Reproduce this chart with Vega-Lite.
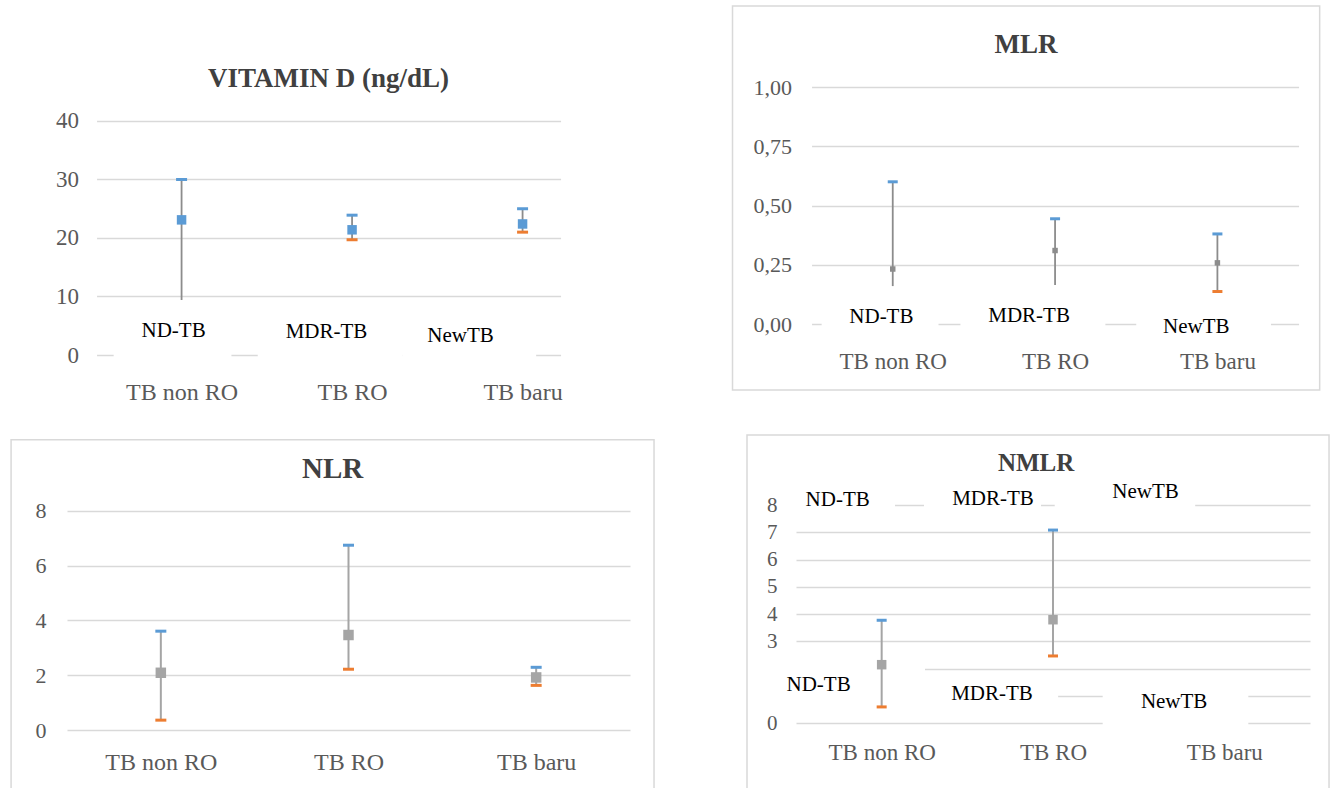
{
  "$schema": "https://vega.github.io/schema/vega-lite/v6.json",
  "padding": {"left": 10, "top": 5, "right": 0, "bottom": 0},
  "background": "white",
  "config": {
    "view": {"stroke": null},
    "font": "Liberation Serif",
    "title": {"font": "Liberation Serif", "fontSize": 27, "fontWeight": "bold", "color": "#404040", "anchor": "middle"},
    "axis": {"labelFont": "Liberation Serif", "labelColor": "#595959", "domain": false, "ticks": false, "gridColor": "#D9D9D9", "gridWidth": 1.5, "title": null, "labelOverlap": false},
    "text": {"font": "Liberation Serif", "fontSize": 21, "color": "#000000"}
  },
  "datasets": {
    "stats": [
      {"panel": "VIT", "group": "TB non RO", "max": 30.0, "min": 9.4, "minTick": null, "mid": 23.1},
      {"panel": "VIT", "group": "TB RO", "max": 23.9, "min": 19.7, "minTick": 19.7, "mid": 21.4},
      {"panel": "VIT", "group": "TB baru", "max": 25.0, "min": 21.0, "minTick": 21.0, "mid": 22.4},
      {"panel": "MLR", "group": "TB non RO", "max": 0.60, "min": 0.16, "minTick": null, "mid": 0.232},
      {"panel": "MLR", "group": "TB RO", "max": 0.444, "min": 0.165, "minTick": null, "mid": 0.31},
      {"panel": "MLR", "group": "TB baru", "max": 0.38, "min": 0.137, "minTick": 0.137, "mid": 0.258},
      {"panel": "NLR", "group": "TB non RO", "max": 3.61, "min": 0.36, "minTick": 0.36, "mid": 2.09},
      {"panel": "NLR", "group": "TB RO", "max": 6.75, "min": 2.22, "minTick": 2.22, "mid": 3.47},
      {"panel": "NLR", "group": "TB baru", "max": 2.29, "min": 1.63, "minTick": 1.63, "mid": 1.92},
      {"panel": "NMLR", "group": "TB non RO", "max": 3.77, "min": 0.59, "minTick": 0.59, "mid": 2.14},
      {"panel": "NMLR", "group": "TB RO", "max": 7.08, "min": 2.46, "minTick": 2.46, "mid": 3.79}
    ],
    "notes": [
      {"panel": "VIT", "label": "ND-TB", "pos": 0.451, "val": 4.1},
      {"panel": "VIT", "label": "MDR-TB", "pos": 1.347, "val": 3.9},
      {"panel": "VIT", "label": "NewTB", "pos": 2.132, "val": 3.2},
      {"panel": "MLR", "label": "ND-TB", "pos": 0.43, "val": 0.03},
      {"panel": "MLR", "label": "MDR-TB", "pos": 1.34, "val": 0.033},
      {"panel": "MLR", "label": "NewTB", "pos": 2.37, "val": -0.013},
      {"panel": "NMLR", "label": "ND-TB", "pos": 0.243, "val": 8.19},
      {"panel": "NMLR", "label": "MDR-TB", "pos": 1.15, "val": 8.21},
      {"panel": "NMLR", "label": "NewTB", "pos": 2.04, "val": 8.49},
      {"panel": "NMLR", "label": "ND-TB", "pos": 0.132, "val": 1.38},
      {"panel": "NMLR", "label": "MDR-TB", "pos": 1.144, "val": 1.05},
      {"panel": "NMLR", "label": "NewTB", "pos": 2.207, "val": 0.77}
    ],
    "boxes": [
      {"panel": "VIT", "left": 0.1, "right": 0.79, "bottom": -1.5, "top": 7.5},
      {"panel": "VIT", "left": 0.944, "right": 1.79, "bottom": -1.5, "top": 7.5},
      {"panel": "VIT", "left": 1.79, "right": 2.575, "bottom": -1.5, "top": 7.0},
      {"panel": "MLR", "left": 0.062, "right": 0.782, "bottom": -0.08, "top": 0.1},
      {"panel": "MLR", "left": 0.917, "right": 1.81, "bottom": -0.08, "top": 0.1},
      {"panel": "MLR", "left": 2.0, "right": 2.83, "bottom": -0.1, "top": 0.07},
      {"panel": "NMLR", "left": 0.0, "right": 0.578, "bottom": 7.45, "top": 8.9},
      {"panel": "NMLR", "left": 0.747, "right": 1.43, "bottom": 7.5, "top": 8.9},
      {"panel": "NMLR", "left": 1.51, "right": 2.33, "bottom": 7.75, "top": 9.2},
      {"panel": "NMLR", "left": 0.0, "right": 0.753, "bottom": 0.5, "top": 2.6},
      {"panel": "NMLR", "left": 0.753, "right": 1.53, "bottom": 0.6, "top": 1.5},
      {"panel": "NMLR", "left": 1.79, "right": 2.64, "bottom": -0.3, "top": 1.5}
    ],
    "frames": [
      {"panel": "MLR", "left": -0.487, "right": 3.13, "bottom": -0.278, "top": 1.342},
      {"panel": "NLR", "left": -0.298, "right": 3.128, "bottom": -2.19, "top": 10.6},
      {"panel": "NMLR", "left": -0.286, "right": 3.111, "bottom": -2.46, "top": 10.57}
    ]
  },
  "spacing": 30,
  "center": true,
  "vconcat": [
    {
      "spacing": 169,
      "hconcat": [
        {
          "width": 464, "height": 268,
          "title": {"text": "VITAMIN D (ng/dL)", "offset": -6},
          "resolve": {"scale": {"x": "independent"}},
          "layer": [
            {
              "data": {"name": "boxes"},
              "transform": [{"filter": "datum.panel === 'VIT'"}],
              "mark": {"type": "rect", "color": "#ffffff", "opacity": 1},
              "encoding": {
                "x": {"field": "left", "type": "quantitative", "scale": {"domain": [0, 2.718], "nice": false, "zero": false}, "axis": null},
                "x2": {"field": "right"},
                "y": {"field": "bottom", "type": "quantitative", "scale": {"domain": [0, 45.81], "nice": false}, "axis": {"values": [0, 10, 20, 30, 40], "labelFontSize": 23, "labelPadding": 18, "minExtent": 69}},
                "y2": {"field": "top"}
              }
            },
            {
              "data": {"name": "stats"},
              "transform": [{"filter": "datum.panel === 'VIT'"}],
              "encoding": {
                "x": {"field": "group", "type": "nominal", "scale": {"type": "point", "domain": ["TB non RO", "TB RO", "TB baru"], "range": [85, 426], "padding": 0}, "axis": {"labelFontSize": 24, "labelPadding": 25, "grid": false, "labelAngle": 0}},
                "y": {"type": "quantitative", "scale": {"domain": [0, 45.81], "nice": false}}
              },
              "layer": [
                {"mark": {"type": "rule", "color": "#8C8C8C", "strokeWidth": 1.8}, "encoding": {"y": {"field": "min"}, "y2": {"field": "max"}}},
                {"mark": {"type": "tick", "color": "#5B9BD5", "size": 11, "thickness": 3, "opacity": 1}, "encoding": {"y": {"field": "max"}}},
                {"mark": {"type": "tick", "color": "#ED7D31", "size": 11, "thickness": 3, "opacity": 1}, "encoding": {"y": {"field": "minTick"}}},
                {"mark": {"type": "point", "shape": "square", "filled": true, "color": "#5B9BD5", "size": 90, "opacity": 1}, "encoding": {"y": {"field": "mid"}}}
              ]
            },
            {
              "data": {"name": "notes"},
              "transform": [{"filter": "datum.panel === 'VIT'"}],
              "mark": {"type": "text", "baseline": "middle", "align": "center"},
              "encoding": {
                "x": {"field": "pos", "type": "quantitative", "scale": {"domain": [0, 2.718], "nice": false, "zero": false}, "axis": null},
                "y": {"field": "val", "type": "quantitative", "scale": {"domain": [0, 45.81], "nice": false}},
                "text": {"field": "label"}
              }
            }
          ]
        },
        {
          "width": 487, "height": 237,
          "title": {"text": "MLR", "offset": -54, "frame": "bounds"},
          "resolve": {"scale": {"x": "independent"}},
          "layer": [
            {
              "data": {"name": "frames"},
              "transform": [{"filter": "datum.panel === 'MLR'"}],
              "mark": {"type": "rect", "fill": null, "fillOpacity": 0, "stroke": "#D9D9D9", "strokeWidth": 1.5},
              "encoding": {
                "x": {"field": "left", "type": "quantitative", "scale": {"domain": [0, 3], "nice": false, "zero": false}, "axis": null},
                "x2": {"field": "right"},
                "y": {"field": "bottom", "type": "quantitative", "scale": {"domain": [0, 1], "nice": false}},
                "y2": {"field": "top"}
              }
            },
            {
              "data": {"name": "boxes"},
              "transform": [{"filter": "datum.panel === 'MLR'"}],
              "mark": {"type": "rect", "color": "#ffffff", "opacity": 1},
              "encoding": {
                "x": {"field": "left", "type": "quantitative", "scale": {"domain": [0, 3], "nice": false, "zero": false}, "axis": null},
                "x2": {"field": "right"},
                "y": {"field": "bottom", "type": "quantitative", "scale": {"domain": [0, 1], "nice": false}, "axis": {"values": [0, 0.25, 0.5, 0.75, 1], "labelExpr": "replace(format(datum.value, '.2f'), '.', ',')", "labelFontSize": 22, "labelPadding": 20, "minExtent": 60}},
                "y2": {"field": "top"}
              }
            },
            {
              "data": {"name": "stats"},
              "transform": [{"filter": "datum.panel === 'MLR'"}],
              "encoding": {
                "x": {"field": "group", "type": "nominal", "scale": {"type": "point", "domain": ["TB non RO", "TB RO", "TB baru"], "padding": 0.5}, "axis": {"labelFontSize": 23, "labelPadding": 26, "grid": false, "labelAngle": 0}},
                "y": {"type": "quantitative", "scale": {"domain": [0, 1], "nice": false}}
              },
              "layer": [
                {"mark": {"type": "rule", "color": "#8C8C8C", "strokeWidth": 1.8}, "encoding": {"y": {"field": "min"}, "y2": {"field": "max"}}},
                {"mark": {"type": "tick", "color": "#5B9BD5", "size": 10, "thickness": 3, "opacity": 1}, "encoding": {"y": {"field": "max"}}},
                {"mark": {"type": "tick", "color": "#ED7D31", "size": 10, "thickness": 3, "opacity": 1}, "encoding": {"y": {"field": "minTick"}}},
                {"mark": {"type": "point", "shape": "square", "filled": true, "color": "#8C8C8C", "size": 30, "opacity": 1}, "encoding": {"y": {"field": "mid"}}}
              ]
            },
            {
              "data": {"name": "notes"},
              "transform": [{"filter": "datum.panel === 'MLR'"}],
              "mark": {"type": "text", "baseline": "middle", "align": "center"},
              "encoding": {
                "x": {"field": "pos", "type": "quantitative", "scale": {"domain": [0, 3], "nice": false, "zero": false}, "axis": null},
                "y": {"field": "val", "type": "quantitative", "scale": {"domain": [0, 1], "nice": false}},
                "text": {"field": "label"}
              }
            }
          ]
        }
      ]
    },
    {
      "spacing": 91,
      "hconcat": [
        {
          "width": 563, "height": 225,
          "title": {"text": "NLR", "offset": -45, "fontSize": 29, "frame": "bounds"},
          "resolve": {"scale": {"x": "independent"}},
          "layer": [
            {
              "data": {"name": "frames"},
              "transform": [{"filter": "datum.panel === 'NLR'"}],
              "mark": {"type": "rect", "fill": null, "fillOpacity": 0, "stroke": "#D9D9D9", "strokeWidth": 1.5},
              "encoding": {
                "x": {"field": "left", "type": "quantitative", "scale": {"domain": [0, 3], "nice": false, "zero": false}, "axis": null},
                "x2": {"field": "right"},
                "y": {"field": "bottom", "type": "quantitative", "scale": {"domain": [0, 8.219], "nice": false}, "axis": {"values": [0, 2, 4, 6, 8], "labelFontSize": 22, "labelPadding": 21, "minExtent": 41}},
                "y2": {"field": "top"}
              }
            },
            {
              "data": {"name": "stats"},
              "transform": [{"filter": "datum.panel === 'NLR'"}],
              "encoding": {
                "x": {"field": "group", "type": "nominal", "scale": {"type": "point", "domain": ["TB non RO", "TB RO", "TB baru"], "padding": 0.5}, "axis": {"labelFontSize": 24, "labelPadding": 20, "grid": false, "labelAngle": 0}},
                "y": {"type": "quantitative", "scale": {"domain": [0, 8.219], "nice": false}}
              },
              "layer": [
                {"mark": {"type": "rule", "color": "#A5A5A5", "strokeWidth": 2}, "encoding": {"y": {"field": "min"}, "y2": {"field": "max"}}},
                {"mark": {"type": "tick", "color": "#5B9BD5", "size": 11, "thickness": 3, "opacity": 1}, "encoding": {"y": {"field": "max"}}},
                {"mark": {"type": "tick", "color": "#ED7D31", "size": 11, "thickness": 3, "opacity": 1}, "encoding": {"y": {"field": "minTick"}}},
                {"mark": {"type": "point", "shape": "square", "filled": true, "color": "#A5A5A5", "size": 110, "opacity": 1}, "encoding": {"y": {"field": "mid"}}}
              ]
            }
          ]
        },
        {
          "width": 514, "height": 218,
          "title": {"text": "NMLR", "offset": -42, "dx": -12, "fontSize": 25, "frame": "bounds"},
          "resolve": {"scale": {"x": "independent"}, "axis": {"y": "independent"}},
          "layer": [
            {
              "data": {"name": "frames"},
              "transform": [{"filter": "datum.panel === 'NMLR'"}],
              "mark": {"type": "rect", "fill": null, "fillOpacity": 0, "stroke": "#D9D9D9", "strokeWidth": 1.5},
              "encoding": {
                "x": {"field": "left", "type": "quantitative", "scale": {"domain": [0, 3], "nice": false, "zero": false}, "axis": null},
                "x2": {"field": "right"},
                "y": {"field": "bottom", "type": "quantitative", "scale": {"domain": [0, 8], "nice": false}, "axis": {"values": [0, 1, 2, 3, 4, 5, 6, 7, 8], "tickCount": 9, "grid": true, "labelExpr": "datum.value == 1 || datum.value == 2 ? '' : datum.label", "labelFontSize": 21, "labelPadding": 19, "minExtent": 45}},
                "y2": {"field": "top"}
              }
            },
            {
              "data": {"name": "boxes"},
              "transform": [{"filter": "datum.panel === 'NMLR'"}],
              "mark": {"type": "rect", "color": "#ffffff", "opacity": 1},
              "encoding": {
                "x": {"field": "left", "type": "quantitative", "scale": {"domain": [0, 3], "nice": false, "zero": false}, "axis": null},
                "x2": {"field": "right"},
                "y": {"field": "bottom", "type": "quantitative", "scale": {"domain": [0, 8], "nice": false}, "axis": null},
                "y2": {"field": "top"}
              }
            },
            {
              "data": {"name": "stats"},
              "transform": [{"filter": "datum.panel === 'NMLR'"}],
              "encoding": {
                "x": {"field": "group", "type": "nominal", "scale": {"type": "point", "domain": ["TB non RO", "TB RO", "TB baru"], "padding": 0.5}, "axis": {"labelFontSize": 23, "labelPadding": 18, "grid": false, "labelAngle": 0}},
                "y": {"type": "quantitative", "scale": {"domain": [0, 8], "nice": false}, "axis": null}
              },
              "layer": [
                {"mark": {"type": "rule", "color": "#A5A5A5", "strokeWidth": 2}, "encoding": {"y": {"field": "min"}, "y2": {"field": "max"}}},
                {"mark": {"type": "tick", "color": "#5B9BD5", "size": 10, "thickness": 3, "opacity": 1}, "encoding": {"y": {"field": "max"}}},
                {"mark": {"type": "tick", "color": "#ED7D31", "size": 10, "thickness": 3, "opacity": 1}, "encoding": {"y": {"field": "minTick"}}},
                {"mark": {"type": "point", "shape": "square", "filled": true, "color": "#A5A5A5", "size": 90, "opacity": 1}, "encoding": {"y": {"field": "mid"}}}
              ]
            },
            {
              "data": {"name": "notes"},
              "transform": [{"filter": "datum.panel === 'NMLR'"}],
              "mark": {"type": "text", "baseline": "middle", "align": "center"},
              "encoding": {
                "x": {"field": "pos", "type": "quantitative", "scale": {"domain": [0, 3], "nice": false, "zero": false}, "axis": null},
                "y": {"field": "val", "type": "quantitative", "scale": {"domain": [0, 8], "nice": false}, "axis": {"orient": "right", "labels": false, "grid": false, "domain": false, "ticks": false, "minExtent": 40, "maxExtent": 40}},
                "text": {"field": "label"}
              }
            }
          ]
        }
      ]
    }
  ]
}
